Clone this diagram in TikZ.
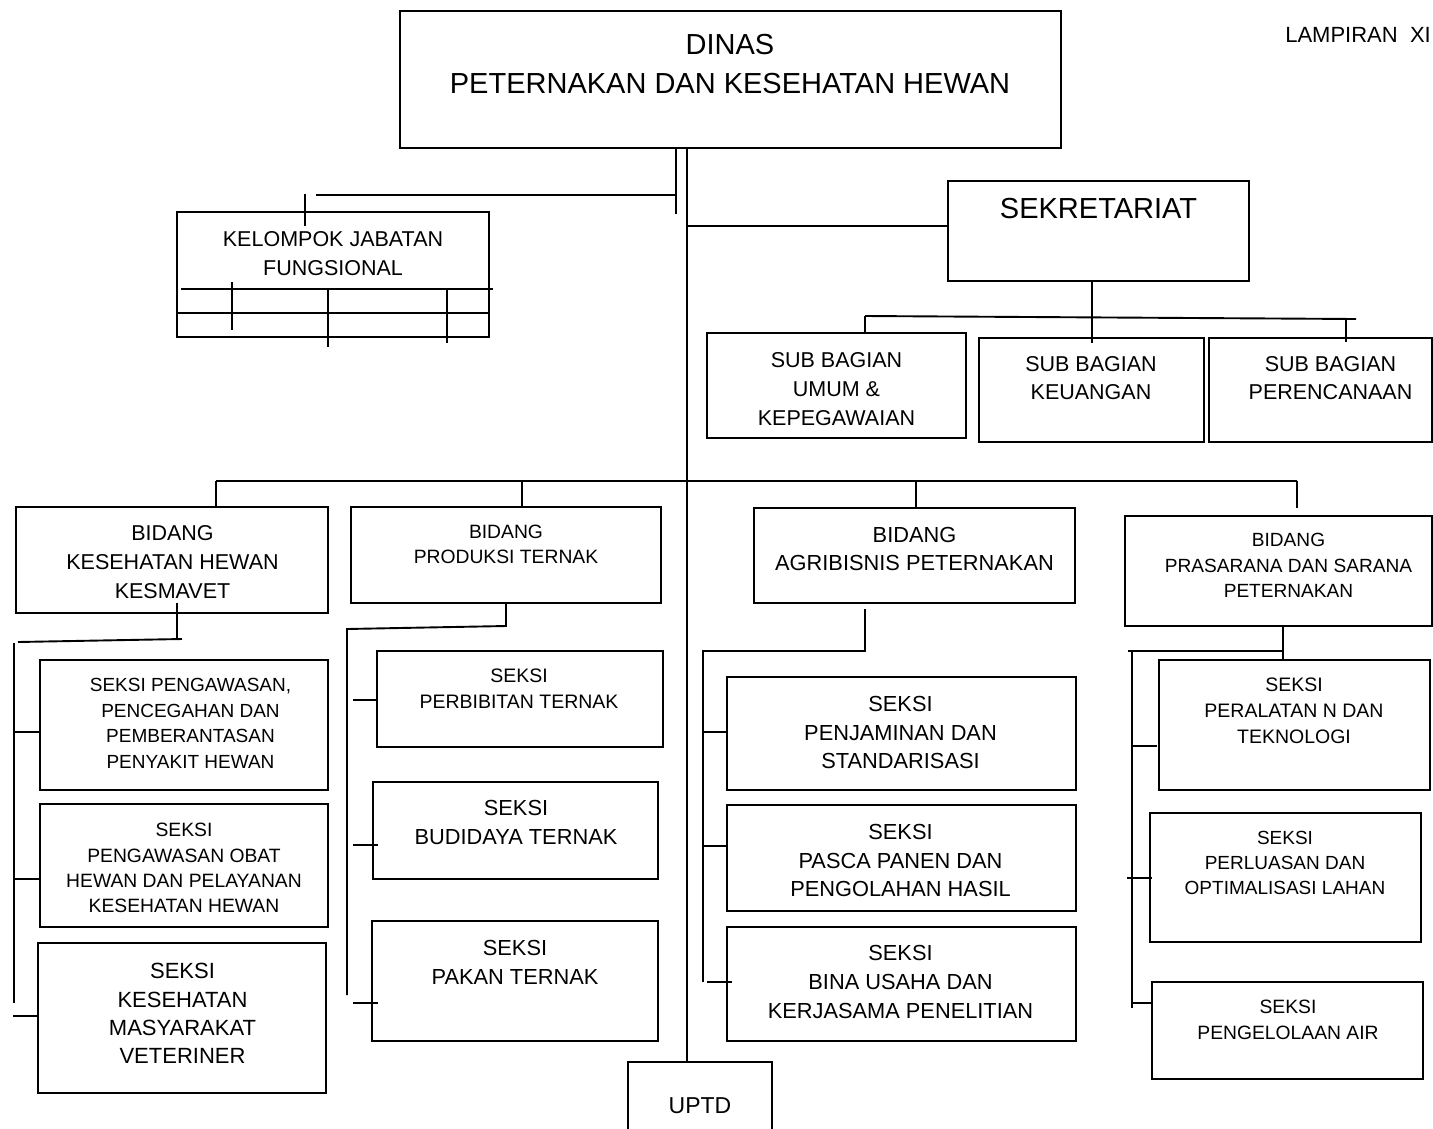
\documentclass[tikz,border=0pt]{standalone}
\usepackage{fontspec}
\setmainfont{Liberation Sans}
\usetikzlibrary{fit}
\newcommand\myfs[2]{\fontsize{#1pt}{#2pt}\selectfont}
\begin{document}
\begin{tikzpicture}[x=1pt,y=-1pt,
  box/.style={draw, line width=1.9pt, inner sep=0pt},
  ln/.style={line width=1.9pt},
  txt/.style={align=center, inner sep=0pt}]
\useasboundingbox (0,0) rectangle (1433,1128);
% ---------- boxes ----------
\node[box, fit={(400,11) (1061,148)}] (dinas) {};
\node[box, fit={(948,181) (1249,281)}] (sek) {};
\node[box, fit={(177,212) (489,337)}] (kjf) {};
\node[box, fit={(707,333) (966,438)}] (sbu) {};
\node[box, fit={(979,338) (1204,442)}] (sbk) {};
\node[box, fit={(1209,338) (1432,442)}] (sbp) {};
\node[box, fit={(16,507) (328,613)}] (bkh) {};
\node[box, fit={(351,507) (661,603)}] (bpt) {};
\node[box, fit={(754,508) (1075,603)}] (bag) {};
\node[box, fit={(1125,516) (1432,626)}] (bps) {};
\node[box, fit={(40,660) (328,790)}] (kh1) {};
\node[box, fit={(40,804) (328,927)}] (kh2) {};
\node[box, fit={(38,943) (326,1093)}] (kh3) {};
\node[box, fit={(377,651) (663,747)}] (pt1) {};
\node[box, fit={(373,782) (658,879)}] (pt2) {};
\node[box, fit={(372,921) (658,1041)}] (pt3) {};
\node[box, fit={(727,677) (1076,790)}] (ag1) {};
\node[box, fit={(727,805) (1076,911)}] (ag2) {};
\node[box, fit={(727,927) (1076,1041)}] (ag3) {};
\node[box, fit={(1159,660) (1430,790)}] (ps1) {};
\node[box, fit={(1150,813) (1421,942)}] (ps2) {};
\node[box, fit={(1152,982) (1423,1079)}] (ps3) {};
\node[box, fit={(628,1062) (772,1150)}] (uptd) {};
% ---------- texts ----------
\node[txt, font=\myfs{29}{39}] (t-dinas) at (730,64.5) {DINAS\\PETERNAKAN DAN KESEHATAN HEWAN};
\node[txt, font=\myfs{22}{26}, anchor=east] (t-lamp) at (1431,35) {LAMPIRAN\ \ XI};
\node[txt, font=\myfs{29}{36}] (t-sek) at (1098.5,209) {SEKRETARIAT};
\node[txt, font=\myfs{21.5}{29}] (t-kjf) at (333,253.5) {KELOMPOK JABATAN\\FUNGSIONAL};
\node[txt, font=\myfs{21.5}{29}] (t-sbu) at (836.5,389) {SUB BAGIAN\\UMUM \&\\KEPEGAWAIAN};
\node[txt, font=\myfs{21.5}{28}] (t-sbk) at (1091,378) {SUB BAGIAN\\KEUANGAN};
\node[txt, font=\myfs{21.5}{28}] (t-sbp) at (1330.5,378) {SUB BAGIAN\\PERENCANAAN};
\node[txt, font=\myfs{21.5}{29}] (t-bkh) at (172.5,562) {BIDANG\\KESEHATAN HEWAN\\KESMAVET};
\node[txt, font=\myfs{19.3}{25}] (t-bpt) at (506,544.5) {BIDANG\\PRODUKSI TERNAK};
\node[txt, font=\myfs{21.8}{28}] (t-bag) at (914.5,549) {BIDANG\\AGRIBISNIS PETERNAKAN};
\node[txt, font=\myfs{19.1}{25.5}] (t-bps) at (1288.5,565.5) {BIDANG\\PRASARANA DAN SARANA\\PETERNAKAN};
\node[txt, font=\myfs{19}{25.5}] (t-kh1) at (190.5,723.5) {SEKSI PENGAWASAN,\\PENCEGAHAN DAN\\PEMBERANTASAN\\PENYAKIT HEWAN};
\node[txt, font=\myfs{19.3}{25.3}] (t-kh2) at (184,868) {SEKSI\\PENGAWASAN OBAT\\HEWAN DAN PELAYANAN\\KESEHATAN HEWAN};
\node[txt, font=\myfs{22}{28.3}] (t-kh3) at (182.5,1013.5) {SEKSI\\KESEHATAN\\MASYARAKAT\\VETERINER};
\node[txt, font=\myfs{19.5}{26}] (t-pt1) at (519,689) {SEKSI\\PERBIBITAN TERNAK};
\node[txt, font=\myfs{21.8}{29}] (t-pt2) at (516,822.5) {SEKSI\\BUDIDAYA TERNAK};
\node[txt, font=\myfs{21.8}{29}] (t-pt3) at (515,962.5) {SEKSI\\PAKAN TERNAK};
\node[txt, font=\myfs{21.8}{28.5}] (t-ag1) at (900.5,732.5) {SEKSI\\PENJAMINAN DAN\\STANDARISASI};
\node[txt, font=\myfs{21.8}{28.5}] (t-ag2) at (900.5,860.5) {SEKSI\\PASCA PANEN DAN\\PENGOLAHAN HASIL};
\node[txt, font=\myfs{21.8}{29}] (t-ag3) at (900.5,982) {SEKSI\\BINA USAHA DAN\\KERJASAMA PENELITIAN};
\node[txt, font=\myfs{19.5}{26}] (t-ps1) at (1294,711) {SEKSI\\PERALATAN N DAN\\TEKNOLOGI};
\node[txt, font=\myfs{19}{25}] (t-ps2) at (1285,863) {SEKSI\\PERLUASAN DAN\\OPTIMALISASI LAHAN};
\node[txt, font=\myfs{19.3}{26}] (t-ps3) at (1288,1020) {SEKSI\\PENGELOLAAN AIR};
\node[txt, font=\myfs{23}{28}] (t-uptd) at (700,1106) {UPTD};
% ---------- connectors ----------
% from DINAS
\coordinate (fj) at (676,148);
\coordinate (mj) at (687,148);
\draw[ln] (fj) -- (676,214);
\draw[ln] (316,195) coordinate (kjfl) -- (676,195);
\draw[ln] (305,194) -- (305,226);
\draw[ln] (mj) -- (mj |- uptd.north);
\draw[ln] (mj |- 0,226) -- (sek.west |- 0,226);
% KJF inner lines
\draw[ln] (181,289) -- (493,289);
\draw[ln] (kjf.west |- 0,313) -- (kjf.east |- 0,313);
\draw[ln] (232,282) -- (232,330);
\draw[ln] (328,289) -- (328,347);
\draw[ln] (447,289) -- (447,343);
% SEKRETARIAT subtree
\draw[ln] (sek.south -| 1092,0) -- (1092,343);
\draw[ln] (865,316) -- (1356,319);
\draw[ln] (865,316) -- (sbu.north -| 865,0);
\draw[ln] (1346,318) -- (1346,342);
% Bidang row
\draw[ln] (216,481) -- (1297,481);
\draw[ln] (216,481) -- (bkh.north -| 216,0);
\draw[ln] (522,481) -- (bpt.north -| 522,0);
\draw[ln] (916,481) -- (bag.north -| 916,0);
\draw[ln] (1297,481) -- (1297,508);
% Kesehatan Hewan column
\draw[ln] (177,603) -- (177,640);
\draw[ln] (18,642) -- (182,639);
\draw[ln] (14,643) -- (14,1003);
\draw[ln] (15,732) -- (kh1.west |- 0,732);
\draw[ln] (15,879) -- (kh2.west |- 0,879);
\draw[ln] (13,1016) -- (kh3.west |- 0,1016);
% Produksi Ternak column
\draw[ln] (bpt.south -| 506,0) -- (506,626) -- (347,629) -- (347,995);
\draw[ln] (353,700) -- (pt1.west |- 0,700);
\draw[ln] (353,845) -- (378,845);
\draw[ln] (353,1003) -- (378,1003);
% Agribisnis column
\draw[ln] (865,609) -- (865,651) -- (703,651) -- (703,982);
\draw[ln] (703,732) -- (ag1.west |- 0,732);
\draw[ln] (703,846) -- (ag2.west |- 0,846);
\draw[ln] (707,982) -- (732,982);
% Prasarana column
\draw[ln] (bps.south -| 1283,0) -- (ps1.north -| 1283,0);
\draw[ln] (1128,651) -- (1283,651);
\draw[ln] (1132,651) -- (1132,1008);
\draw[ln] (1132,746) -- (1157,746);
\draw[ln] (1127,878) -- (1152,878);
\draw[ln] (1132,1003) -- (ps3.west |- 0,1003);
\end{tikzpicture}
\end{document}
